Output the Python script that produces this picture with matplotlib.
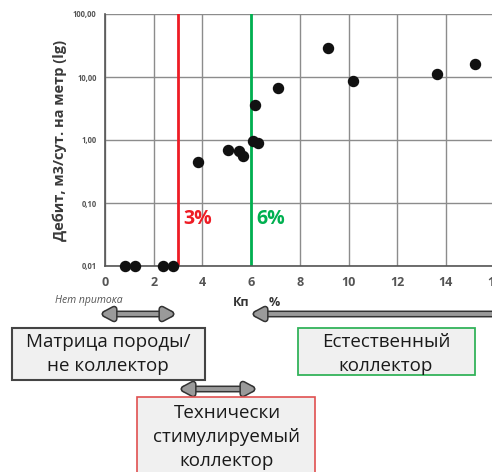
import matplotlib
matplotlib.use('Agg')
import matplotlib.pyplot as plt
import matplotlib.patheffects as pe
from matplotlib.patches import Rectangle, FancyArrowPatch
from matplotlib.ticker import FixedLocator, FuncFormatter

plt.rcParams['font.family'] = ['Open Sans', 'DejaVu Sans']

# Пористость (Кп, %) и дебит (м3/сут. на метр)
kp = [0.83, 1.23, 2.4, 2.8, 3.83, 5.06, 5.52, 5.68, 6.09, 6.28, 6.16, 7.09, 9.14, 10.2, 13.63, 15.2]
debit = [0.01, 0.01, 0.01, 0.01, 0.44, 0.70, 0.68, 0.56, 0.96, 0.91, 3.6, 6.6, 28.6, 8.5, 11.1, 15.9]

x_ticks = [0, 2, 4, 6, 8, 10, 12, 14, 16]
y_ticks = [0.01, 0.1, 1, 10, 100]
cutoffs = [3, 6]
cutoff_labels = ['3%', '6%']
cutoff_colors = ['#ee1c25', '#00b050']

W, H = 492, 472
fig = plt.figure(figsize=(W / 100, H / 100), dpi=100)

# основная диаграмма
ax = fig.add_axes([105 / W, 1 - 266 / H, 389.6 / W, 252 / H])
ax.set_yscale('log')
ax.set_xlim(0, 16)
ax.set_ylim(0.01, 100)
ax.xaxis.set_major_locator(FixedLocator(x_ticks))
ax.yaxis.set_major_locator(FixedLocator(y_ticks))
ax.yaxis.set_minor_locator(FixedLocator([]))
ax.yaxis.set_major_formatter(FuncFormatter(lambda v, p: f'{v:.2f}'.replace('.', ',')))
ax.grid(True, color='#8c8c8c', lw=1)
ax.set_axisbelow(True)
for s in ['top', 'right']:
    ax.spines[s].set_visible(False)
for s in ['left', 'bottom']:
    ax.spines[s].set_color('#555555')
    ax.spines[s].set_linewidth(1.2)
ax.tick_params(axis='x', length=0, labelsize=9, labelcolor='#555555', pad=7)
ax.tick_params(axis='y', length=0, labelsize=5.5, labelcolor='#555555', pad=6)
for lab in ax.get_xticklabels() + ax.get_yticklabels():
    lab.set_fontweight('bold')

ax.scatter(kp, debit, s=52, color='#111111', zorder=3, clip_on=False)

# граничные значения пористости
for c, lab, col in zip(cutoffs, cutoff_labels, cutoff_colors):
    ax.axvline(c, color=col, lw=2, zorder=2)
    ax.text(c + 0.2, 0.056, lab, color=col, fontsize=14, fontweight='bold', va='center', ha='left')

fig.text(60 / W, 1 - 140 / H, 'Дебит, м3/сут. на метр (lg)', rotation=90, ha='center', va='center',
         fontsize=10.5, fontweight='bold', color='#3a3a3a')

# схема внизу в пиксельных координатах
ov = fig.add_axes([0, 0, 1, 1])
ov.set_xlim(0, W)
ov.set_ylim(H, 0)
ov.axis('off')

ov.text(89, 301, 'Нет притока', style='italic', fontsize=7.5, color='#555555', ha='center', va='center')
ov.text(241, 303, 'Кп', fontsize=9, fontweight='bold', color='#333333', ha='center', va='center')
ov.text(274, 302, '%', fontsize=9, fontweight='bold', color='#333333', ha='center', va='center')

arrow_fx = [pe.Stroke(linewidth=5, foreground='#333333'), pe.Normal()]
for (x0, x1, y, style) in [(101, 175, 314, '<|-|>'), (180, 256, 389, '<|-|>'), (500, 252, 314, '-|>')]:
    ar = FancyArrowPatch((x0, y), (x1, y), arrowstyle=f'{style},head_length=2.6,head_width=1.4',
                         lw=2.8, color='#9a9a9a', mutation_scale=2.5, shrinkA=0, shrinkB=0,
                         path_effects=arrow_fx)
    ov.add_patch(ar)

boxes = [
    (12, 328, 193, 52, '#444444', 1.5, 'Матрица породы/\nне коллектор', 108, 354),
    (298, 328, 177, 47, '#33b35a', 1.3, 'Естественный\nколлектор', 386, 354),
    (137, 397, 178, 90, '#e05050', 1.2, 'Технически\nстимулируемый\nколлектор', 227, 437),
]
for x, y, w, h, ec, lw, txt, tx, ty in boxes:
    ov.add_patch(Rectangle((x, y), w, h, facecolor='#f0f0f0', edgecolor=ec, lw=lw))
    ov.text(tx, ty, txt, fontsize=13.5, color='#1a1a1a', ha='center', va='center', linespacing=1.45)

fig.savefig('out.png', dpi=100)
